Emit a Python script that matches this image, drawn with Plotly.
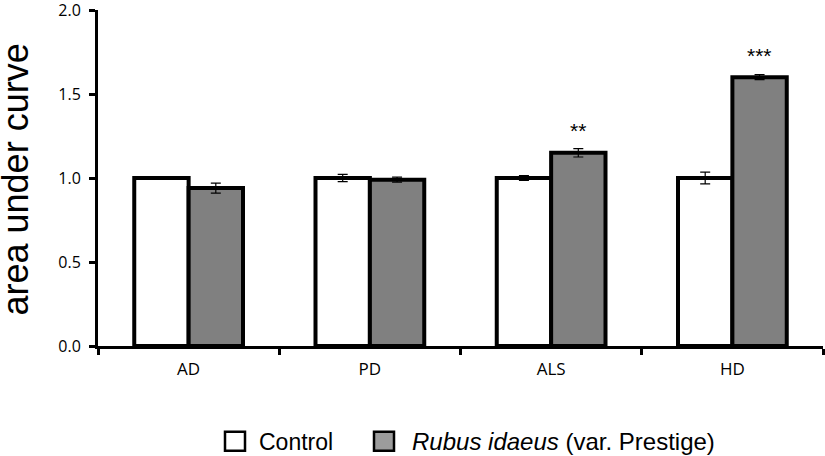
import plotly.graph_objects as go

categories = ["AD", "PD", "ALS", "HD"]
control_vals = [1.00, 1.00, 1.00, 1.00]
control_err = [0.008, 0.022, 0.015, 0.035]
rubus_vals = [0.94, 0.99, 1.15, 1.60]
rubus_err = [0.03, 0.015, 0.025, 0.015]
sig_labels = ["", "", "**", "***"]
sig_y = [None, None, 1.28, 1.73]
legend_names = ["Control", "<i>Rubus idaeus</i> (var. Prestige)"]
y_title = "area under curve"

fig = go.Figure()
fig.add_trace(go.Bar(
    x=categories, y=control_vals, name=legend_names[0],
    marker=dict(color="white", line=dict(color="black", width=4)),
    error_y=dict(type="data", array=control_err, color="black", thickness=1.2, width=5),
))
fig.add_trace(go.Bar(
    x=categories, y=rubus_vals, name=legend_names[1],
    marker=dict(color="#808080", line=dict(color="black", width=4)),
    error_y=dict(type="data", array=rubus_err, color="black", thickness=1.2, width=5),
))

for i, (lab, yv) in enumerate(zip(sig_labels, sig_y)):
    if lab:
        fig.add_annotation(x=i + 0.15, y=yv, text=lab, showarrow=False,
                           font=dict(size=21, color="black", family="Liberation Sans"),
                           xref="x", yref="y")

# manual legend (large swatches)
W, H = 725.0, 337.0
def px(x):
    return (x - 98) / W
def py(y):
    return (346 - y) / H

fig.add_shape(type="rect", xref="paper", yref="paper",
              x0=px(225), x1=px(245), y0=py(451), y1=py(432),
              fillcolor="white", line=dict(color="black", width=2.5))
fig.add_shape(type="rect", xref="paper", yref="paper",
              x0=px(374), x1=px(394), y0=py(451), y1=py(432),
              fillcolor="#9c9c9c", line=dict(color="black", width=2.5))
fig.add_annotation(xref="paper", yref="paper", x=px(257), y=py(442), xanchor="left", yanchor="middle",
                   text=legend_names[0], showarrow=False,
                   font=dict(size=23, family="Liberation Sans", color="black"))
fig.add_annotation(xref="paper", yref="paper", x=px(410), y=py(442), xanchor="left", yanchor="middle",
                   text=legend_names[1], showarrow=False,
                   font=dict(size=24, family="Liberation Sans", color="black"))

# y-axis title as rotated annotation for precise placement
fig.add_annotation(xref="paper", yref="paper", x=px(15), y=py(179), xanchor="center", yanchor="middle",
                   text=y_title, showarrow=False, textangle=-90,
                   font=dict(size=36, family="Liberation Sans", color="black"))

fig.update_layout(
    width=825, height=456,
    margin=dict(l=98, r=2, t=10, b=110),
    plot_bgcolor="white", paper_bgcolor="white",
    barmode="group", bargap=0.40, bargroupgap=0,
    font=dict(family="Liberation Sans", color="black"),
    showlegend=False,
    xaxis=dict(
        automargin=False,
        showline=True, linecolor="black", linewidth=3,
        ticks="outside", tickson="boundaries", ticklen=6, tickwidth=3, tickcolor="black",
        tickfont=dict(size=17, family="Open Sans"),
        ticklabelstandoff=6,
        range=[-0.5, 3.5],
    ),
    yaxis=dict(
        automargin=False,
        range=[0, 2.0], tickvals=[0, 0.5, 1.0, 1.5, 2.0],
        ticktext=["0.0", "0.5", "1.0", "1.5", "2.0"],
        ticklabeloverflow="allow",
        ticklabelstandoff=5,
        showline=True, linecolor="black", linewidth=3,
        ticks="outside", ticklen=6, tickwidth=3, tickcolor="black",
        tickfont=dict(size=16, family="Open Sans"),
        showgrid=False, zeroline=False,
    ),
)

fig.write_html("out.html", config={"displayModeBar": False},
               post_script="document.body.style.margin='0';")
